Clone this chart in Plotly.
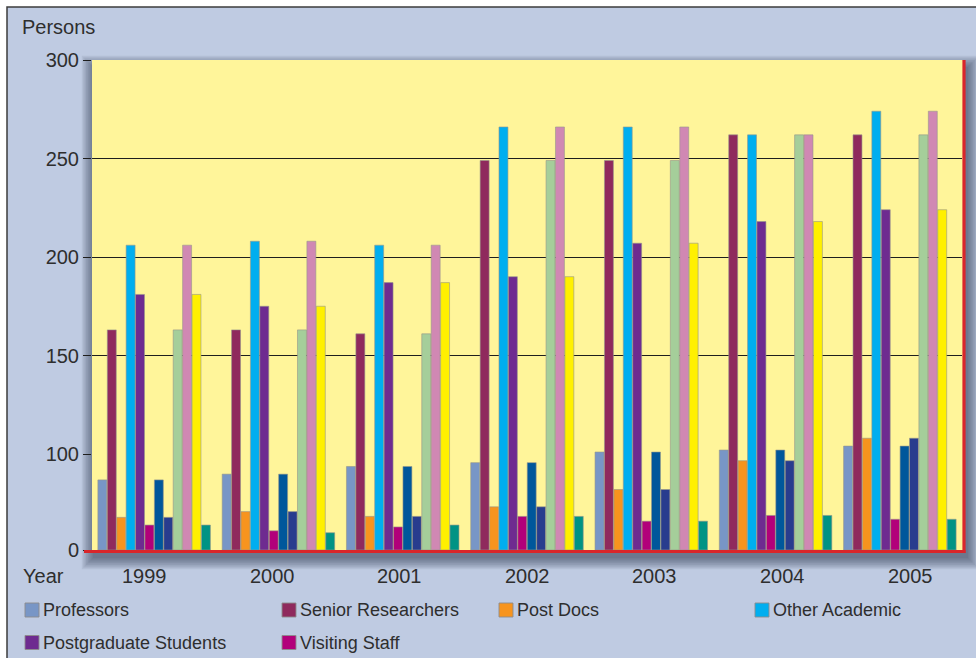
import plotly.graph_objects as go

# ---- data -------------------------------------------------------------
years = ["1999", "2000", "2001", "2002", "2003", "2004", "2005"]

professors = [73, 79, 87, 91, 101, 102, 104]
senior_researchers = [163, 163, 161, 249, 249, 262, 262]
post_docs = [34, 40, 35, 45, 63, 93, 108]
other_academic = [206, 208, 206, 266, 266, 262, 274]
postgraduate_students = [181, 175, 187, 190, 207, 218, 224]
visiting_staff = [26, 20, 24, 35, 30, 36, 32]

# second block of bars drawn after the first six in each year
professors_b = [73, 79, 87, 91, 101, 102, 104]
post_docs_b = [34, 40, 35, 45, 63, 93, 108]
senior_researchers_b = [163, 163, 161, 249, 249, 262, 262]
other_academic_b = [206, 208, 206, 266, 266, 262, 274]
postgraduate_students_b = [181, 175, 187, 190, 207, 218, 224]
visiting_staff_b = [26, 18, 26, 35, 30, 36, 32]

y_ticks_low = [0, 100]
y_ticks_high = [150, 200, 250, 300]

# ---- styling ------------------------------------------------------------
series = [
    ("Professors", professors, "#7896C6", True),
    ("Senior Researchers", senior_researchers, "#8F2A5D", True),
    ("Post Docs", post_docs, "#F7941E", True),
    ("Other Academic", other_academic, "#00AEEF", True),
    ("Postgraduate Students", postgraduate_students, "#6E2B90", True),
    ("Visiting Staff", visiting_staff, "#B2007A", True),
    ("Professors II", professors_b, "#00579B", False),
    ("Post Docs II", post_docs_b, "#283C8E", False),
    ("Senior Researchers II", senior_researchers_b, "#A5CE9A", False),
    ("Other Academic II", other_academic_b, "#D088B3", False),
    ("Postgraduate Students II", postgraduate_students_b, "#FFF000", False),
    ("Visiting Staff II", visiting_staff_b, "#009384", False),
]

W, H = 976, 658
L, R, T, B = 92, 14, 60, 108
PW, PH = W - L - R, H - T - B
BG = "#BFCBE2"
PLOT_BG = "#FFF59A"
TXT = "#2e2e2e"
FONT = "Liberation Sans, Arial, sans-serif"


def px(x):
    return (x - L) / PW


def py(y):
    return (H - B - y) / PH


# the value axis is broken: 0-100 uses half the scale of 100-300
split = 96 / PH

fig = go.Figure()
for name, vals, color, _ in series:
    for yax in ("y", "y2"):
        fig.add_trace(go.Bar(
            x=years, y=vals, name=name, xaxis="x", yaxis=yax,
            marker=dict(color=color, line=dict(color="rgba(150,150,140,0.75)", width=0.8)),
            showlegend=False, hoverinfo="x+y+name",
        ))

shapes = []
# page background with a dark frame line
shapes.append(dict(type="rect", xref="paper", yref="paper", layer="below",
                   x0=px(7), x1=px(W + 20), y0=py(7), y1=py(H + 20),
                   fillcolor=BG, line=dict(color="#3c3c3c", width=1.5)))
# soft drop shadow behind the plot panel
for i in range(9):
    g = 1.4 * i
    shapes.append(dict(type="rect", xref="paper", yref="paper", layer="below",
                       x0=px(L - 2 - g + 3), x1=px(L + PW + 3 + g + 3),
                       y0=py(T + 2 - g + 5), y1=py(H - B + 3 + g + 5),
                       fillcolor="rgba(45,55,85,0.085)", line=dict(width=0)))
# plot panel
shapes.append(dict(type="rect", xref="paper", yref="paper", layer="below",
                   x0=0, x1=px(L + PW + 1), y0=py(H - B + 1), y1=1,
                   fillcolor=PLOT_BG, line=dict(width=0)))
# red frame on the bottom and right of the panel
shapes.append(dict(type="line", xref="paper", yref="paper",
                   x0=px(84), x1=px(L + PW + 3.5), y0=py(H - B + 1.5), y1=py(H - B + 1.5),
                   line=dict(color="#D9252A", width=3.2)))
shapes.append(dict(type="line", xref="paper", yref="paper",
                   x0=px(L + PW + 2), x1=px(L + PW + 2), y0=py(T), y1=py(H - B + 3),
                   line=dict(color="#D9252A", width=3.2)))

annotations = [
    dict(text="Persons", xref="paper", yref="paper", x=px(20), y=py(27),
         xanchor="left", yanchor="middle", showarrow=False,
         font=dict(size=20, color=TXT, family=FONT)),
    dict(text="Year", xref="paper", yref="paper", x=px(21), y=py(576),
         xanchor="left", yanchor="middle", showarrow=False,
         font=dict(size=20, color=TXT, family=FONT)),
]

# year captions run on their own even spacing beneath the groups
label_start, label_pitch = 144.5, 127.6
for i, yr in enumerate(years):
    annotations.append(dict(text=yr, xref="paper", yref="paper",
                            x=px(label_start + i * label_pitch), y=py(576),
                            xanchor="center", yanchor="middle", showarrow=False,
                            font=dict(size=20, color=TXT, family=FONT)))

# legend laid out in fixed columns under the chart
legend_cols = [25, 282, 499, 755]
legend_rows = [610, 642.5]
for idx, (name, _, color, in_legend) in enumerate(series):
    if not in_legend:
        continue
    row, col = divmod(idx, 4)
    x0 = legend_cols[col]
    yc = legend_rows[row]
    shapes.append(dict(type="rect", xref="paper", yref="paper",
                       x0=px(x0), x1=px(x0 + 14), y0=py(yc + 7), y1=py(yc - 7),
                       fillcolor=color, line=dict(color="rgba(140,140,140,0.9)", width=1)))
    annotations.append(dict(text=name, xref="paper", yref="paper",
                            x=px(x0 + 16), y=py(yc), xanchor="left", yanchor="middle",
                            showarrow=False, font=dict(size=18, color=TXT, family=FONT)))

axis_font = dict(size=20, color=TXT, family=FONT)

fig.update_layout(
    width=W, height=H,
    margin=dict(l=L, r=R, t=T, b=B, pad=0),
    paper_bgcolor="white",
    plot_bgcolor="rgba(0,0,0,0)",
    barmode="group", bargap=0.091, bargroupgap=0.05,
    showlegend=False,
    font=dict(family=FONT, color=TXT),
    xaxis=dict(type="category", domain=[0, 1], anchor="y", showticklabels=False,
               showgrid=False, showline=False, zeroline=False, ticks=""),
    yaxis=dict(domain=[0, split], range=[0, 100], anchor="x",
               tickmode="array", tickvals=y_ticks_low, ticktext=[str(v) for v in y_ticks_low],
               showgrid=True, gridcolor="#1e1e1e", gridwidth=1, zeroline=False,
               ticks="outside", ticklen=8, tickcolor="#1e1e1e", tickwidth=1,
               tickfont=axis_font, showline=False),
    yaxis2=dict(domain=[split, 1], range=[100, 300], anchor="x",
                tickmode="array", tickvals=y_ticks_high, ticktext=[str(v) for v in y_ticks_high],
                showgrid=True, gridcolor="#1e1e1e", gridwidth=1, zeroline=False,
                ticks="outside", ticklen=8, tickcolor="#1e1e1e", tickwidth=1,
                tickfont=axis_font, showline=False),
    shapes=shapes,
    annotations=annotations,
)

fig.write_html("out.html")
